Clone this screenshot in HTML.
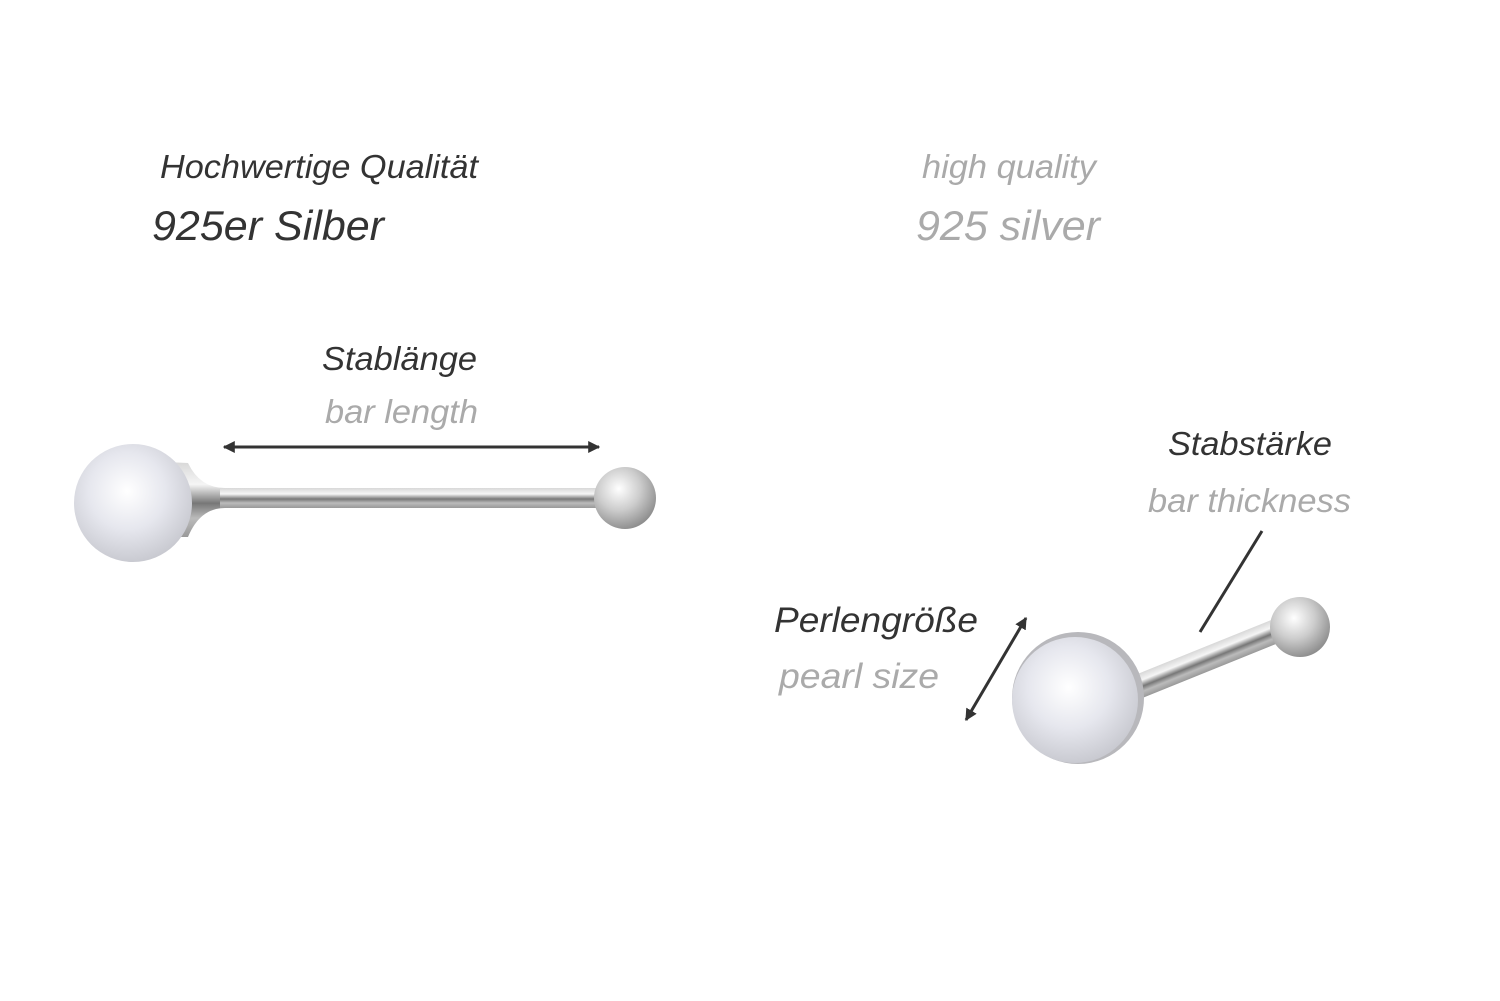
<!DOCTYPE html>
<html><head><meta charset="utf-8"><style>html,body{margin:0;padding:0;background:#fff}svg{display:block}</style></head>
<body>
<svg width="1500" height="1001" viewBox="0 0 1500 1001" xmlns="http://www.w3.org/2000/svg" font-family="Liberation Sans, sans-serif" font-style="italic">
<defs>
<radialGradient id="pearl" cx="0.45" cy="0.4" r="0.65">
<stop offset="0" stop-color="#ffffff"/><stop offset="0.5" stop-color="#e6e7ee"/><stop offset="1" stop-color="#c4c5cc"/>
</radialGradient>
<linearGradient id="barH" x1="0" y1="0" x2="0" y2="1">
<stop offset="0" stop-color="#d8d8d8"/><stop offset="0.3" stop-color="#f5f5f5"/><stop offset="0.55" stop-color="#777"/><stop offset="0.75" stop-color="#bbb"/><stop offset="1" stop-color="#999"/>
</linearGradient>
<radialGradient id="ball" cx="0.4" cy="0.35" r="0.7">
<stop offset="0" stop-color="#fff"/><stop offset="0.5" stop-color="#ccc"/><stop offset="1" stop-color="#888"/>
</radialGradient>
<marker id="ah" viewBox="0 0 10 10" refX="9" refY="5" markerWidth="4" markerHeight="4" orient="auto-start-reverse"><path d="M0,0 L10,5 L0,10 z" fill="#333"/></marker>
</defs>

<g fill="#333">
<text x="160" y="178" font-size="33" textLength="318" lengthAdjust="spacingAndGlyphs">Hochwertige Qualität</text>
<text x="152" y="240" font-size="42" textLength="232" lengthAdjust="spacingAndGlyphs">925er Silber</text>
<text x="322" y="370" font-size="33" textLength="155" lengthAdjust="spacingAndGlyphs">Stablänge</text>
<text x="1168" y="455" font-size="33" textLength="164" lengthAdjust="spacingAndGlyphs">Stabstärke</text>
<text x="774" y="632" font-size="35" textLength="204" lengthAdjust="spacingAndGlyphs">Perlengröße</text>
</g>
<g fill="#aaa">
<text x="922" y="178" font-size="33" textLength="174" lengthAdjust="spacingAndGlyphs">high quality</text>
<text x="916" y="240" font-size="42" textLength="184" lengthAdjust="spacingAndGlyphs">925 silver</text>
<text x="325" y="423" font-size="33" textLength="153" lengthAdjust="spacingAndGlyphs">bar length</text>
<text x="1148" y="512" font-size="33" textLength="203" lengthAdjust="spacingAndGlyphs">bar thickness</text>
<text x="779" y="688" font-size="35" textLength="160" lengthAdjust="spacingAndGlyphs">pearl size</text>
</g>

<g stroke="#333" stroke-width="3">
<line x1="224" y1="447" x2="599" y2="447" marker-start="url(#ah)" marker-end="url(#ah)"/>
<line x1="1262" y1="531" x2="1200" y2="632"/>
<line x1="1026" y1="618" x2="966" y2="720" marker-start="url(#ah)" marker-end="url(#ah)"/>
</g>

<path d="M165,462 L188,463 Q200,488 225,488 L605,488 L605,508 L225,508 Q200,508 188,537 L165,537 z" fill="url(#barH)"/>
<rect x="220" y="488" width="390" height="20" fill="url(#barH)"/>
<circle cx="625" cy="498" r="31" fill="url(#ball)"/>
<circle cx="133" cy="503" r="59" fill="url(#pearl)"/>

<g transform="translate(1130,690) rotate(-22)">
<rect x="0" y="-12" width="170" height="24" fill="url(#barH)"/>
</g>
<circle cx="1300" cy="627" r="30" fill="url(#ball)"/>
<circle cx="1078" cy="698" r="66" fill="#b8b8bc"/>
<circle cx="1075" cy="700" r="63" fill="url(#pearl)"/>
</svg>
</body></html>
